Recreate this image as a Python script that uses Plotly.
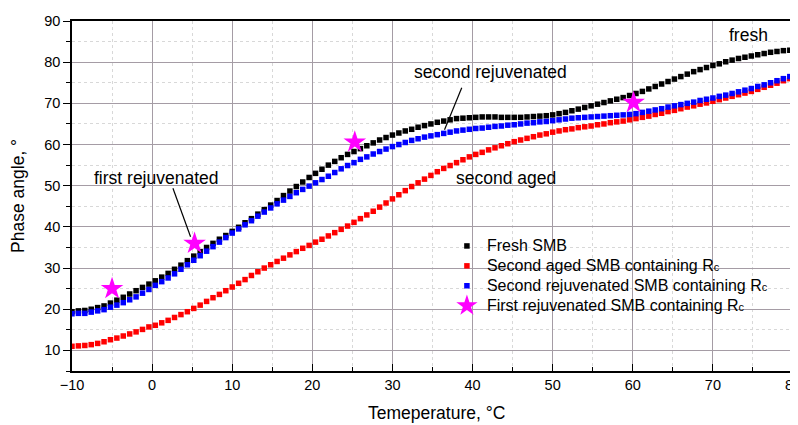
import plotly.graph_objects as go

temperature = [-10, -9.2, -8.4, -7.6, -6.8, -6, -5.2, -4.4, -3.6, -2.8, -2, -1.2, -0.4, 0.4, 1.2, 2, 2.8, 3.6, 4.4, 5.2,
               6, 6.8, 7.6, 8.4, 9.2, 10, 10.8, 11.6, 12.4, 13.2, 14, 14.8, 15.6, 16.4, 17.2, 18, 18.8, 19.6, 20.4, 21.2,
               22, 22.8, 23.6, 24.4, 25.2, 26, 26.8, 27.6, 28.4, 29.2, 30, 30.8, 31.6, 32.4, 33.2, 34, 34.8, 35.6, 36.4, 37.2,
               38, 38.8, 39.6, 40.4, 41.2, 42, 42.8, 43.6, 44.4, 45.2, 46, 46.8, 47.6, 48.4, 49.2, 50, 50.8, 51.6, 52.4, 53.2,
               54, 54.8, 55.6, 56.4, 57.2, 58, 58.8, 59.6, 60.4, 61.2, 62, 62.8, 63.6, 64.4, 65.2, 66, 66.8, 67.6, 68.4, 69.2,
               70, 70.8, 71.6, 72.4, 73.2, 74, 74.8, 75.6, 76.4, 77.2, 78, 78.8, 79.6]

fresh = [19.4, 19.6, 19.7, 20.0, 20.4, 20.8, 21.5, 22.2, 22.9, 23.7, 24.5, 25.3, 26.1, 26.9, 27.8, 28.7, 29.7, 30.7, 31.8, 32.9,
         34.0, 35.0, 36.0, 37.0, 37.9, 38.9, 39.9, 41.0, 42.0, 43.1, 44.2, 45.3, 46.4, 47.6, 48.7, 49.8, 50.9, 52.0, 53.0, 54.0,
         55.0, 55.9, 56.8, 57.6, 58.3, 59.0, 59.7, 60.4, 61.1, 61.7, 62.3, 62.8, 63.3, 63.7, 64.2, 64.6, 65.0, 65.4, 65.7, 66.0,
         66.3, 66.4, 66.5, 66.6, 66.7, 66.7, 66.7, 66.6, 66.6, 66.6, 66.6, 66.7, 66.8, 66.9, 67.0, 67.2, 67.5, 67.8, 68.2, 68.6,
         69.0, 69.4, 69.8, 70.2, 70.6, 71.0, 71.4, 71.9, 72.4, 72.9, 73.5, 74.1, 74.7, 75.3, 75.9, 76.5, 77.1, 77.7, 78.2, 78.7,
         79.2, 79.6, 80.1, 80.5, 80.9, 81.2, 81.5, 81.8, 82.1, 82.4, 82.6, 82.8, 82.9]

second_aged = [11.0, 11.1, 11.2, 11.4, 11.7, 12.1, 12.6, 13.0, 13.5, 14.0, 14.5, 15.1, 15.7, 16.1, 16.7, 17.3, 18.0, 18.7, 19.4, 20.2,
               21.0, 21.9, 22.8, 23.6, 24.5, 25.4, 26.3, 27.2, 28.2, 29.1, 30.0, 30.8, 31.6, 32.4, 33.2, 34.0, 34.8, 35.5, 36.3, 37.0,
               37.8, 38.6, 39.4, 40.2, 41.1, 42.0, 42.9, 43.8, 44.8, 45.8, 46.8, 47.8, 48.8, 49.8, 50.7, 51.6, 52.5, 53.4, 54.2, 54.9,
               55.6, 56.3, 57.0, 57.6, 58.1, 58.7, 59.2, 59.7, 60.2, 60.7, 61.1, 61.5, 61.9, 62.3, 62.6, 63.0, 63.3, 63.6, 63.8, 64.1,
               64.3, 64.5, 64.8, 65.0, 65.3, 65.5, 65.7, 66.0, 66.3, 66.6, 66.9, 67.3, 67.6, 68.0, 68.3, 68.7, 69.1, 69.4, 69.8, 70.1,
               70.5, 70.9, 71.3, 71.7, 72.1, 72.5, 72.9, 73.4, 73.9, 74.4, 74.9, 75.5, 76.0]

second_rejuvenated = [18.9, 19.0, 19.0, 19.3, 19.6, 19.9, 20.5, 21.0, 21.6, 22.3, 23.0, 23.9, 24.8, 25.8, 26.7, 27.6, 28.6, 29.7, 30.8, 31.9,
                      33.0, 34.1, 35.2, 36.3, 37.4, 38.5, 39.5, 40.5, 41.5, 42.6, 43.6, 44.6, 45.6, 46.5, 47.4, 48.3, 49.1, 49.9, 50.7, 51.5,
                      52.3, 53.2, 54.1, 54.9, 55.6, 56.4, 57.0, 57.7, 58.3, 58.9, 59.5, 60.0, 60.5, 61.0, 61.4, 61.8, 62.1, 62.4, 62.7, 63.0,
                      63.3, 63.5, 63.7, 63.9, 64.0, 64.2, 64.4, 64.5, 64.7, 64.8, 65.0, 65.2, 65.3, 65.5, 65.6, 65.8, 66.0, 66.2, 66.4, 66.5,
                      66.6, 66.7, 66.8, 66.9, 67.0, 67.1, 67.2, 67.3, 67.5, 67.8, 68.1, 68.4, 68.7, 69.1, 69.4, 69.7, 70.0, 70.3, 70.7, 71.0,
                      71.3, 71.7, 72.0, 72.4, 72.8, 73.2, 73.6, 74.1, 74.5, 75.0, 75.5, 76.0, 76.5]

first_rej_temp = [-5, 5.3, 25.3, 60.1]
first_rej_angle = [25.0, 36.0, 60.6, 70.2]

series_names = ["Fresh SMB",
                "Second aged SMB containing R<span style='font-size:11px'>c</span>",
                "Second rejuvenated SMB containing R<span style='font-size:11px'>c</span>",
                "First rejuvenated SMB containing R<span style='font-size:11px'>c</span>"]

FONT = "Arial, Liberation Sans, sans-serif"


def legend_label(text):
    return "<span style='font-size:16px'>" + text + "</span>"


fig = go.Figure()
fig.add_trace(go.Scatter(x=temperature, y=fresh, mode="markers", name=legend_label(series_names[0]),
                         marker=dict(symbol="square", size=5.5, color="black")))
fig.add_trace(go.Scatter(x=temperature, y=second_aged, mode="markers", name=legend_label(series_names[1]),
                         marker=dict(symbol="square", size=5.5, color="#ff0000")))
fig.add_trace(go.Scatter(x=temperature, y=second_rejuvenated, mode="markers",
                         name=legend_label(series_names[2]),
                         marker=dict(symbol="square", size=5.5, color="#0000ff")))
fig.add_trace(go.Scatter(x=first_rej_temp, y=first_rej_angle, mode="markers",
                         name=legend_label(series_names[3]),
                         marker=dict(symbol="star", size=17, color="#ff00ff", line=dict(width=0))))

axis_common = dict(
    showline=True, linecolor="black", linewidth=1.5, mirror=True,
    tickwidth=1.2, tickcolor="black",
    showgrid=True, gridcolor="#a59ca5", gridwidth=1,
    zeroline=False, automargin=False, ticklabeloverflow="allow",
    tickfont=dict(family=FONT, size=14.5, color="black"),
)

fig.update_xaxes(range=[-10, 80], dtick=10, tick0=0, ticks="inside", ticklen=7,
                 minor=dict(dtick=5, ticks="inside", ticklen=4, tickcolor="black",
                            showgrid=True, gridcolor="#d8d8d8", griddash="dot"),
                 **axis_common)
fig.update_yaxes(range=[5, 90], dtick=10, tick0=0, ticks="outside", ticklen=7,
                 minor=dict(dtick=5, ticks="outside", ticklen=4, tickcolor="black",
                            showgrid=True, gridcolor="#d8d8d8", griddash="dot"),
                 **axis_common)

ann_font = dict(family=FONT, size=17.5, color="black")
title_font = dict(family=FONT, size=17.5, color="black")
annotations = [
    dict(x=74.4, y=86.5, text="fresh", showarrow=False, font=ann_font),
    dict(x=42.2, y=77.6, text="second rejuvenated", showarrow=False, font=ann_font),
    dict(x=44.2, y=51.8, text="second aged", showarrow=False, font=ann_font),
    dict(x=0.5, y=51.8, text="first rejuvenated", showarrow=False, font=ann_font),
    dict(xref="paper", yref="paper", x=0.506, y=-0.12, text="Temeperature, °C", showarrow=False,
         font=title_font, xanchor="center", yanchor="middle"),
    dict(xref="paper", yref="paper", x=-0.075, y=0.5, text="Phase angle, °", showarrow=False,
         font=title_font, xanchor="center", yanchor="middle", textangle=-90),
]
fig.update_layout(annotations=annotations)
# pointer lines
fig.add_shape(type="line", x0=38.65, y0=73.8, x1=36.5, y1=63.6, line=dict(color="black", width=1.2))
fig.add_shape(type="line", x0=2.6, y0=49.4, x1=4.8, y1=37.6, line=dict(color="black", width=1.2))

# the page body adds an 8px offset, so the figure is sized to fill the remaining window
fig.update_layout(
    width=790, height=417,
    margin=dict(l=64, r=5, t=13, b=54, autoexpand=False),
    paper_bgcolor="white", plot_bgcolor="white",
    font=dict(family=FONT, size=14, color="black"),
    legend=dict(x=0.52, y=0.40, xanchor="left", yanchor="top",
                bgcolor="rgba(0,0,0,0)", font=dict(family=FONT, size=13, color="black"),
                tracegroupgap=0, itemwidth=30),
    showlegend=True,
)

fig.write_html("out.html")
